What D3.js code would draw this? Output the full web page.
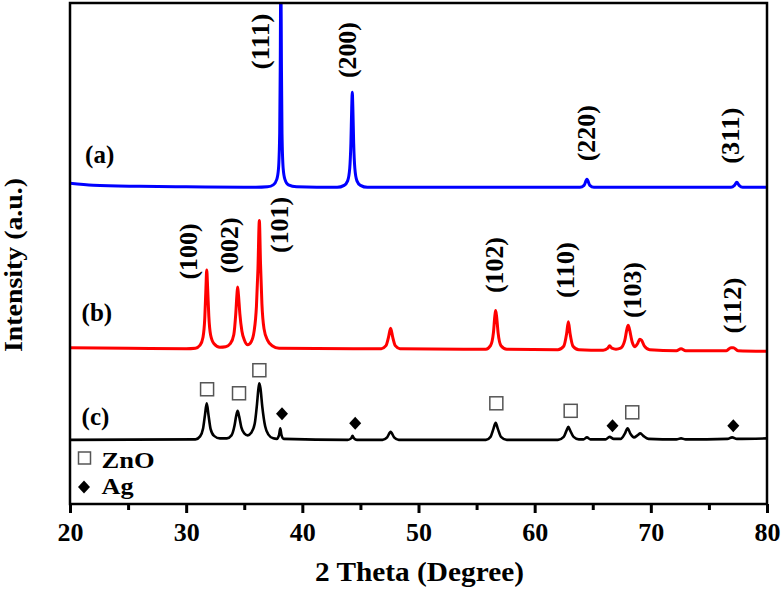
<!DOCTYPE html>
<html>
<head>
<meta charset="utf-8">
<script src="https://cdn.jsdelivr.net/npm/d3@7"></script>
<style>
body{margin:0;background:#fff;}
text{font-family:"Liberation Serif","Times New Roman",serif;font-weight:bold;}
</style>
</head>
<body>
<svg width="782" height="591"></svg>
<script>
// x axis
var xTicks=[20,30,40,50,60,70,80];
var minorTicks=[25,35,45,55,65,75];

// (a) Ag, (b) ZnO, (c) Ag/ZnO  -- [2theta, intensity a.u. incl. offset]
var traceA=[[20,640],[22,636],[26,634],[30,633],[36,632],[37.0,633],[37.5,637],[37.8,648],[37.95,670],[38.05,740],[38.1,880],[38.15,1080],[38.2,880],[38.25,740],[38.35,670],[38.5,648],[38.8,637],[39.5,633],
[43.0,632],[43.6,636],[43.9,645],[44.08,670],[44.18,720],[44.25,790],[44.3,822],[44.35,790],[44.42,720],[44.52,670],[44.7,645],[45.0,636],[45.6,632],
[63.9,632],[64.25,636],[64.5,648],[64.75,636],[65.1,632],
[76.9,632],[77.2,636],[77.4,642],[77.6,636],[77.9,632],[80,632]];

var traceB=[[20,312],[25,311],[30,310],[30.8,311],[31.2,317],[31.45,333],[31.6,370],[31.7,430],[31.77,467],[31.85,430],[31.95,375],[32.1,338],[32.4,320],[32.9,313],
[33.4,314],[33.8,320],[34.1,338],[34.27,380],[34.37,418],[34.43,433],[34.5,418],[34.62,380],[34.8,345],[35.0,328],[35.3,318],[35.6,324],[35.85,345],[36.05,395],[36.18,470],[36.3,566],[36.4,480],[36.52,400],[36.7,350],[37.0,327],[37.4,316],[38.0,311],
[46.8,310],[47.2,316],[47.42,333],[47.6,351],[47.78,333],[48.0,316],[48.4,310],
[55.8,309],[56.2,316],[56.45,342],[56.57,375],[56.64,386],[56.72,375],[56.85,342],[57.1,316],[57.6,309],
[62.0,308],[62.5,315],[62.75,340],[62.9,364],[63.05,340],[63.3,315],[63.8,308],
[65.9,307],[66.3,311],[66.45,316],[66.65,311],[67.0,309],[67.4,311],[67.75,326],[67.95,350],[68.05,357],[68.15,350],[68.4,323],[68.65,314],[68.85,320],[69.05,329],[69.2,327],[69.45,315],[69.9,308],
[72.2,306],[72.6,310],[73.0,306],
[76.5,306],[76.9,312],[77.1,312],[77.5,306],[80,305]];

var traceC=[[20,128],[30.8,129],[31.2,135],[31.45,150],[31.62,178],[31.77,201],[31.92,178],[32.1,150],[32.4,136],[32.9,131],
[33.5,131],[33.9,137],[34.15,155],[34.3,175],[34.43,186],[34.56,175],[34.75,153],[35.0,141],[35.3,137],[35.6,142],[35.9,160],[36.1,200],[36.22,230],[36.3,241],[36.4,230],[36.55,195],[36.8,155],[37.1,138],[37.5,131],
[37.8,130],[38.0,138],[38.1,151],[38.2,138],[38.4,130],
[43.9,128],[44.2,131],[44.32,136],[44.45,131],[44.7,128],
[46.9,128],[47.3,133],[47.6,144],[47.9,133],[48.3,128],
[55.8,128],[56.2,134],[56.45,150],[56.64,162],[56.83,150],[57.1,134],[57.6,128],
[62.0,128],[62.5,134],[62.75,147],[62.9,154],[63.05,147],[63.35,134],[63.8,129],
[64.2,129],[64.5,133],[64.8,129],
[66.1,129],[66.45,134],[66.8,130],
[67.4,130],[67.75,140],[68.0,151],[68.25,140],[68.55,133],[68.85,137],[69.1,141],[69.35,136],[69.8,130],
[72.2,129],[72.6,131],[73.0,129],
[76.6,130],[77.0,133],[77.4,130],[80,131]];

var traceNames=['(a)','(b)','(c)'];
var traceNamePos=[[21.3,681],[21.0,365],[21.0,158]];

// hkl labels [text, 2theta, intensity]
var hklA=[['(111)',36.57,923],['(200)',44.02,906],['(220)',64.59,740],['(311)',76.99,735]];
var hklB=[['(100)',30.33,504],['(002)',33.86,516],['(101)',38.21,557],['(102)',56.67,477],['(110)',62.78,467],['(103)',68.55,427],['(112)',77.16,396]];

// phase markers on (c)
var znoMarks=[[31.8,229],[34.55,221],[36.3,267],[56.7,201],[63.1,186],[68.4,183]];
var agMarks=[[38.25,180],[44.55,161],[66.7,156],[77.1,156]];

var svg=d3.select('svg');
var x=d3.scaleLinear().domain([20,80]).range([70,767]);
var y=d3.scaleLinear().domain([0,1000]).range([504,3]);

svg.append('clipPath').attr('id','clip').append('rect')
  .attr('x',70).attr('y',3).attr('width',697).attr('height',501);

var line=d3.line().x(function(d){return x(d[0]);}).y(function(d){return y(d[1]);}).curve(d3.curveMonotoneX);

var g=svg.append('g').attr('clip-path','url(#clip)');
g.append('path').datum(traceC).attr('d',line).attr('fill','none').attr('stroke','#000').attr('stroke-width',2.6);
g.append('path').datum(traceB).attr('d',line).attr('fill','none').attr('stroke','#ff0000').attr('stroke-width',3);
g.append('path').datum(traceA).attr('d',line).attr('fill','none').attr('stroke','#0000ff').attr('stroke-width',3);

// frame
svg.append('rect').attr('x',70).attr('y',3).attr('width',697).attr('height',501)
  .attr('fill','none').attr('stroke','#000').attr('stroke-width',2.5);

// axis
var ax=svg.append('g').attr('transform','translate(0,504)')
  .call(d3.axisBottom(x).tickValues(xTicks).tickSize(9).tickPadding(9.5));
ax.select('.domain').remove();
ax.selectAll('line').attr('stroke','#000').attr('stroke-width',3);
ax.selectAll('text').attr('font-size',26).attr('fill','#000')
  .style('font-family','"Liberation Serif",serif').style('font-weight','bold');
var ax2=svg.append('g').attr('transform','translate(0,504)')
  .call(d3.axisBottom(x).tickValues(minorTicks).tickSize(6).tickFormat(''));
ax2.select('.domain').remove();
ax2.selectAll('line').attr('stroke','#000').attr('stroke-width',3);

// titles
svg.append('text').attr('x',315).attr('y',581).attr('font-size',28)
  .attr('textLength',209).attr('lengthAdjust','spacingAndGlyphs').text('2 Theta (Degree)');
svg.append('text').attr('transform','translate(22,265) rotate(-90)').attr('text-anchor','middle')
  .attr('font-size',26).attr('textLength',174).attr('lengthAdjust','spacingAndGlyphs').text('Intensity (a.u.)');

// trace names
svg.selectAll('.tname').data(traceNames).enter().append('text').attr('class','tname')
  .attr('x',function(d,i){return x(traceNamePos[i][0]);})
  .attr('y',function(d,i){return y(traceNamePos[i][1]);})
  .attr('font-size',25).text(function(d){return d;});

// hkl
svg.selectAll('.hkl').data(hklA.concat(hklB)).enter().append('text').attr('class','hkl')
  .attr('transform',function(d){return 'translate('+x(d[1])+','+y(d[2])+') rotate(-90)';})
  .attr('text-anchor','middle').attr('dy','0.27em').attr('font-size',25)
  .attr('textLength',56).attr('lengthAdjust','spacingAndGlyphs')
  .text(function(d){return d[0];});

// markers
svg.selectAll('.zno').data(znoMarks).enter().append('rect').attr('class','zno')
  .attr('x',function(d){return x(d[0])-6.5;}).attr('y',function(d){return y(d[1])-6.5;})
  .attr('width',13).attr('height',13).attr('fill','#fff').attr('stroke','#555').attr('stroke-width',1.5);
var diamond='M0,-6.5L6,0L0,6.5L-6,0Z';
svg.selectAll('.ag').data(agMarks).enter().append('path').attr('class','ag')
  .attr('transform',function(d){return 'translate('+x(d[0])+','+y(d[1])+')';})
  .attr('d',diamond).attr('fill','#000');

// legend
svg.append('rect').attr('x',78.5).attr('y',452).attr('width',12).attr('height',12)
  .attr('fill','#fff').attr('stroke','#555').attr('stroke-width',1.5);
svg.append('text').attr('x',101.5).attr('y',467.5).attr('font-size',23)
  .attr('textLength',53).attr('lengthAdjust','spacingAndGlyphs').text('ZnO');
svg.append('path').attr('transform','translate(84,487)').attr('d',diamond).attr('fill','#000');
svg.append('text').attr('x',101.5).attr('y',494).attr('font-size',23)
  .attr('textLength',32).attr('lengthAdjust','spacingAndGlyphs').text('Ag');
</script>
</body>
</html>
